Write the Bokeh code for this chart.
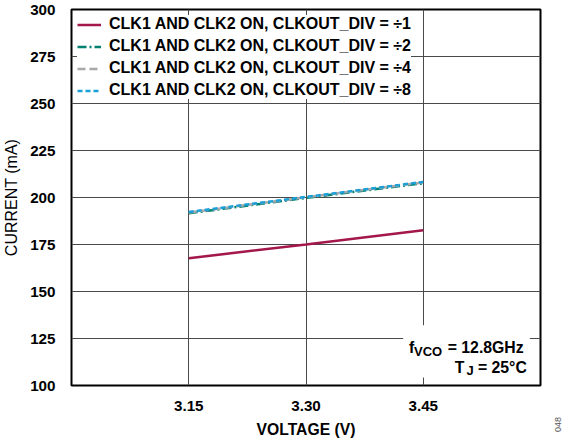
import math
from bokeh.plotting import figure
from bokeh.layouts import row
from bokeh.models import FixedTicker, PrintfTickFormatter, Legend, LegendItem, Label, BoxAnnotation, Range1d
from bokeh.embed import file_html
from bokeh.resources import INLINE

voltage = [3.15, 3.30, 3.45]
div1 = [167.7, 175.0, 182.6]
div2 = [191.6, 199.8, 207.6]
div4 = [192.0, 200.1, 208.0]
div8 = [192.3, 200.3, 208.3]
x_ticks = [3.15, 3.30, 3.45]
y_ticks = [100, 125, 150, 175, 200, 225, 250, 275, 300]
labels = ["CLK1 AND CLK2 ON, CLKOUT_DIV = \u00f71",
          "CLK1 AND CLK2 ON, CLKOUT_DIV = \u00f72",
          "CLK1 AND CLK2 ON, CLKOUT_DIV = \u00f74",
          "CLK1 AND CLK2 ON, CLKOUT_DIV = \u00f78"]

FONT = "Liberation Sans"

p = figure(width=546, height=440, output_backend="svg", toolbar_location=None,
           x_range=Range1d(3.0, 3.6), y_range=Range1d(100, 300),
           min_border_left=60, min_border_right=6, min_border_top=9, min_border_bottom=51)
p.frame_align = False
p.outline_line_color = "black"
p.outline_line_width = 2

p.xaxis.ticker = FixedTicker(ticks=x_ticks)
p.yaxis.ticker = FixedTicker(ticks=y_ticks)
p.xaxis.formatter = PrintfTickFormatter(format="%.2f")
for ax in (p.xaxis[0], p.yaxis[0]):
    ax.axis_line_color = None
    ax.major_tick_line_color = None
    ax.minor_tick_line_color = None
    ax.major_label_text_font = FONT
    ax.major_label_text_font_style = "bold"
    ax.major_label_text_font_size = "15.2px"
    ax.major_label_text_color = "black"
    ax.axis_label_text_font = FONT
    ax.axis_label_text_color = "black"
p.xaxis.major_label_standoff = 9
p.yaxis.major_label_standoff = 10
p.xaxis.axis_label = "VOLTAGE (V)"
p.yaxis.axis_label = "CURRENT (mA)"
p.xaxis.axis_label_text_font_style = "bold"
p.xaxis.axis_label_text_font_size = "15.7px"
p.yaxis.axis_label_text_font_style = "normal"
p.yaxis.axis_label_text_font_size = "16px"
p.xaxis.axis_label_standoff = 7
p.yaxis.axis_label_standoff = 7

p.grid.grid_line_color = "#4a4a4a"
p.grid.grid_line_width = 1
p.grid.grid_line_alpha = 1

r1 = p.line(voltage, div1, line_color="#A3174B", line_width=2.5)
r2 = p.line(voltage, div2, line_color="#00806F", line_width=2.5, line_dash="9 3 2 3")
r4 = p.line(voltage, div4, line_color="#A8A8A8", line_width=2.5, line_dash="8 4")
r8 = p.line(voltage, div8, line_color="#1A9FD9", line_width=2.5, line_dash="5 3")

legend = Legend(items=[LegendItem(label=labels[0], renderers=[r1]),
                       LegendItem(label=labels[1], renderers=[r2]),
                       LegendItem(label=labels[2], renderers=[r4]),
                       LegendItem(label=labels[3], renderers=[r8])],
                location="top_left", margin=6, padding=6, spacing=4,
                glyph_width=24, glyph_height=15, label_height=15, label_standoff=8,
                label_text_font=FONT, label_text_font_style="bold",
                label_text_font_size="16px", label_text_color="black",
                border_line_color=None, background_fill_color="white", background_fill_alpha=1)
p.add_layout(legend, "center")

box = BoxAnnotation(left=3.4243, right=3.5864, bottom=104.2, top=132.0,
                    fill_color="white", fill_alpha=1, line_color=None)
p.add_layout(box)

def lab(x, y, t, size="15.8px"):
    p.add_layout(Label(x=x, y=y, text=t, text_font=FONT, text_font_style="bold",
                       text_font_size=size, text_color="black",
                       text_baseline="alphabetic"))

lab(3.4319, 120.4, "f")
lab(3.4382, 118.3, "VCO", size="13px")
lab(3.4813, 120.4, "= 12.8GHz")
lab(3.4902, 109.7, "T")
lab(3.5053, 108.0, "J", size="13px")
lab(3.5199, 109.7, "= 25\u00b0C")

# narrow side strip carrying the figure number
p2 = figure(width=16, height=440, output_backend="svg", toolbar_location=None,
            x_range=Range1d(0, 16), y_range=Range1d(0, 440), min_border=0,
            x_axis_location=None, y_axis_location=None)
p2.frame_align = False
p2.grid.visible = False
p2.outline_line_color = None
p2.add_layout(Label(x=11, y=16, text="048", text_font=FONT, text_font_size="9px",
                    text_color="#555555", angle=math.pi / 2, text_align="center",
                    text_baseline="middle"))

layout = row(p, p2)
open("out.html", "w").write(file_html(layout, INLINE))
